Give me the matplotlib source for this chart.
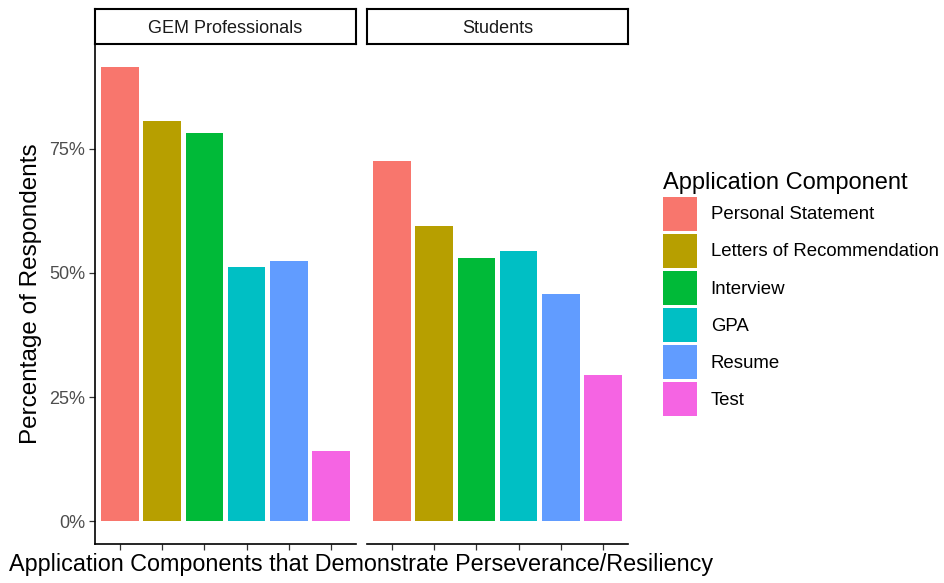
import matplotlib.pyplot as plt
from matplotlib.patches import Patch
import matplotlib.ticker as mtick

plt.rcParams['font.family'] = ['Liberation Sans', 'DejaVu Sans']

# data
components = ["Personal Statement", "Letters of Recommendation", "Interview",
              "GPA", "Resume", "Test"]
colors = ["#F8766D", "#B79F00", "#00BA38", "#00BFC4", "#619CFF", "#F564E3"]
groups = ["GEM Professionals", "Students"]
gem = [91.5, 80.6, 78.2, 51.2, 52.4, 14.1]
students = [72.6, 59.5, 53.0, 54.4, 45.8, 29.4]
values = [gem, students]

fig = plt.figure(figsize=(9.45, 5.83), dpi=100)

W, H = 945, 583
def fx(px):
    return px / W
def fy(px):
    return 1 - px / H

panel_left = [95, 367]
panel_w = 261
top, bottom = 44, 544
ymin, ymax = -4.575, 96.1

for i, g in enumerate(groups):
    ax = fig.add_axes([fx(panel_left[i]), fy(bottom), panel_w / W, (bottom - top) / H])
    x = list(range(1, len(components) + 1))
    ax.bar(x, values[i], width=0.9, color=colors)
    ax.set_xlim(0.4, 6.6)
    ax.set_ylim(ymin, ymax)
    ax.spines['top'].set_visible(False)
    ax.spines['right'].set_visible(False)
    ax.spines['bottom'].set_color('black')
    ax.spines['bottom'].set_linewidth(1.2)
    ax.set_xticks(x)
    ax.set_xticklabels([])
    ax.tick_params(axis='x', length=4, color='#333333', width=0.9)
    if i == 0:
        ax.spines['left'].set_color('black')
        ax.spines['left'].set_linewidth(1.2)
        ax.set_yticks([0, 25, 50, 75])
        ax.yaxis.set_major_formatter(mtick.FuncFormatter(lambda v, p: f"{int(v)}%"))
        ax.tick_params(axis='y', length=4, color='#333333', width=0.9,
                       labelsize=13, labelcolor='#4D4D4D', pad=3)
        ax.set_ylabel("Percentage of Respondents", fontsize=17.5, labelpad=5)
    else:
        ax.spines['left'].set_visible(False)
        ax.set_yticks([])

    # facet strip
    sax = fig.add_axes([fx(panel_left[i]), fy(top), panel_w / W, 35 / H])
    sax.set_xticks([])
    sax.set_yticks([])
    for s in sax.spines.values():
        s.set_linewidth(1.5)
        s.set_color('black')
    sax.text(0.5, 0.45, g, ha='center', va='center', fontsize=13, color='#1A1A1A',
             transform=sax.transAxes)

fig.text(fx(361), fy(565), "Application Components that Demonstrate Perseverance/Resiliency",
         ha='center', va='center', fontsize=16.8)

handles = [Patch(facecolor=c, edgecolor='none') for c in colors]
leg = fig.legend(handles, components, loc='upper left', bbox_to_anchor=(fx(659), fy(168)),
                 frameon=False, fontsize=13.4, title="Application Component",
                 title_fontsize=17, handlelength=1.83, handleheight=2.44,
                 labelspacing=0.16, handletextpad=0.75, borderaxespad=0,
                 borderpad=0.2)
leg._legend_box.align = "left"

fig.savefig("out.png", dpi=100)
